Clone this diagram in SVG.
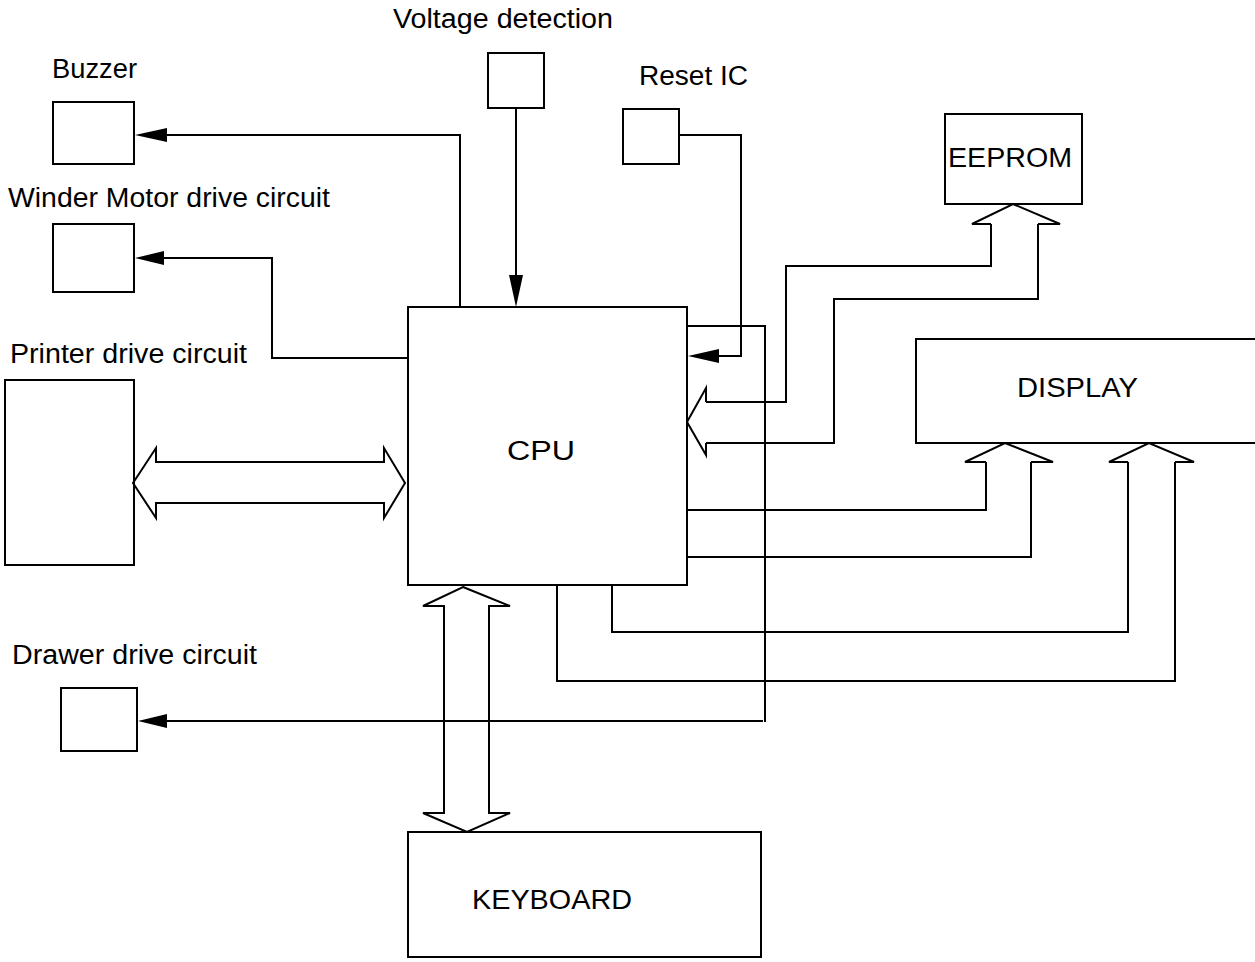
<svg xmlns="http://www.w3.org/2000/svg" width="1255" height="962" viewBox="0 0 1255 962">
<style>
.box{fill:#fff;stroke:#000;stroke-width:2}
.ln{fill:none;stroke:#000;stroke-width:2}
.ah{fill:#000;stroke:none}
.hol{fill:none;stroke:#000;stroke-width:2;stroke-linejoin:miter}
text{font-family:"Liberation Sans",Arial,sans-serif;font-size:27px;fill:#000}
</style>
<rect width="1255" height="962" fill="#fff"/>
<g id="buzzer"><rect class="box" x="53" y="102" width="81" height="62"/><text x="52" y="78" textLength="85" lengthAdjust="spacingAndGlyphs">Buzzer</text></g>
<g id="winder"><rect class="box" x="53" y="224" width="81" height="68"/><text x="8" y="207" textLength="322" lengthAdjust="spacingAndGlyphs">Winder Motor drive circuit</text></g>
<g id="printer"><rect class="box" x="5" y="380" width="129" height="185"/><text x="10" y="363" textLength="237" lengthAdjust="spacingAndGlyphs">Printer drive circuit</text></g>
<g id="drawer"><rect class="box" x="61" y="688" width="76" height="63"/><text x="12" y="664" textLength="245" lengthAdjust="spacingAndGlyphs">Drawer drive circuit</text></g>
<g id="voltage"><rect class="box" x="488" y="53" width="56" height="55"/><text x="393" y="28" textLength="220" lengthAdjust="spacingAndGlyphs">Voltage detection</text></g>
<g id="reset"><rect class="box" x="623" y="109" width="56" height="55"/><text x="639" y="85" textLength="109" lengthAdjust="spacingAndGlyphs">Reset IC</text></g>
<g id="eeprom"><rect class="box" x="945" y="114" width="137" height="90"/><text x="948" y="167" textLength="124" lengthAdjust="spacingAndGlyphs">EEPROM</text></g>
<g id="display"><path class="ln" d="M1260,339 H916 V443 H1260"/><text x="1017" y="397" textLength="121" lengthAdjust="spacingAndGlyphs">DISPLAY</text></g>
<g id="cpu"><rect class="box" x="408" y="307" width="279" height="278"/><text x="507" y="460" font-size="32" textLength="68" lengthAdjust="spacingAndGlyphs">CPU</text></g>
<g id="keyboard"><rect class="box" x="408" y="832" width="353" height="125"/><text x="472" y="909" textLength="160" lengthAdjust="spacingAndGlyphs">KEYBOARD</text></g>
<g id="connectors">
<path class="ln" d="M460,307 V135 H166"/><polygon class="ah" points="135,135 167,128 167,142"/>
<path class="ln" d="M408,358 H272 V258 H163"/><polygon class="ah" points="135,258 164,251 164,265"/>
<path class="ln" d="M516,108 V276"/><polygon class="ah" points="516,307 509,275 523,275"/>
<path class="ln" d="M679,135 H741 V356 H718"/><polygon class="ah" points="688,356 719,349 719,363"/>
<path class="ln" d="M687,326 H765 V722"/>
<path class="ln" d="M763,721 H166"/><polygon class="ah" points="138,721 167,714 167,728"/>
<path class="hol" d="M133,483 L156,448 V462 H384 V448 L405,483 L384,518 V503 H156 V518 Z"/>
<path class="hol" d="M463,587 L510,606 H489 V813 H510 L467,832 L423,813 H444 V606 H423 Z"/>
<polyline class="hol" points="991,224 972,224 1013,204 1060,224 1038,224"/>
<path class="ln" d="M991,224 V266 H786 V402 H706"/>
<path class="ln" d="M1038,224 V299 H834 V443 H706"/>
<polyline class="hol" points="706,402 706,388 687,422 706,455 706,443"/>
<polyline class="hol" points="986,462 965,462 1005,443 1053,462 1031,462"/>
<path class="ln" d="M986,462 V510 H687"/>
<path class="ln" d="M1031,462 V557 H687"/>
<polyline class="hol" points="1128,462 1109,462 1149,443 1194,462 1175,462"/>
<path class="ln" d="M1128,462 V632 H612 V585"/>
<path class="ln" d="M1175,462 V681 H557 V585"/>
</g>
</svg>
